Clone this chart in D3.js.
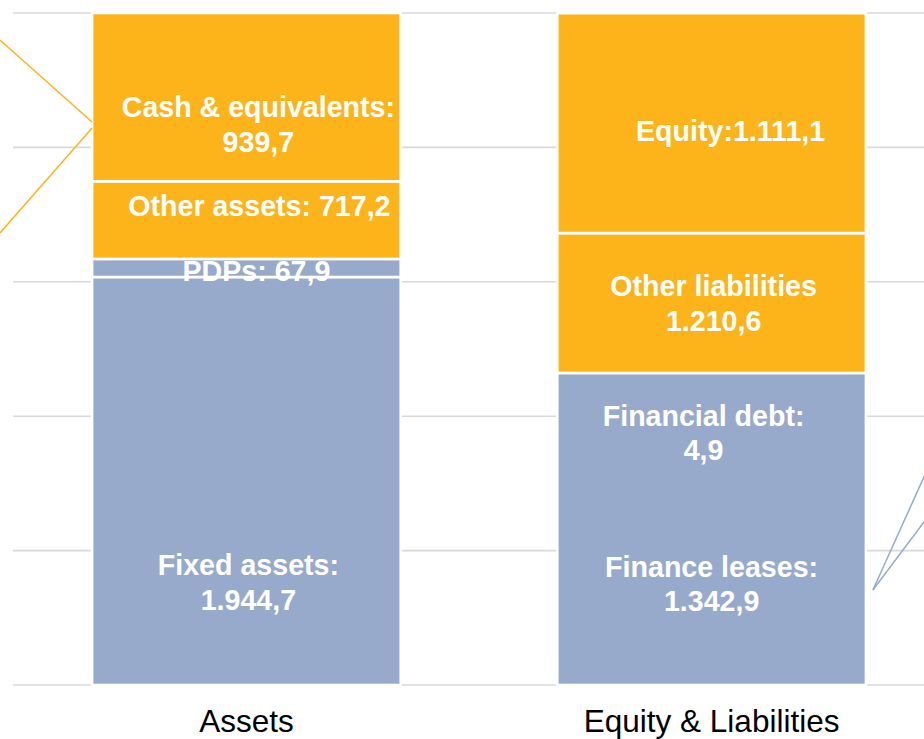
<!DOCTYPE html>
<html>
<head>
<meta charset="utf-8">
<script src="https://cdn.jsdelivr.net/npm/d3@7"></script>
<style>
  html, body { margin: 0; padding: 0; background: #fff; }
  svg { display: block; }
</style>
</head>
<body>
<div id="chart"></div>
<script>
// bar categories
const categories = ["Assets", "Equity & Liabilities"];

// segment heights as drawn (bottom -> top), in the same units as the labels
const assetNames = ["Fixed assets", "PDPs", "Other assets", "Cash & equivalents"];
const assetValues = [2228, 99, 424, 919];
const assetColors = ["blue", "blue", "orange", "orange"];

const liabNames = ["Finance leases / Financial debt", "Other liabilities", "Equity"];
const liabValues = [1704, 764, 1201];
const liabColors = ["blue", "orange", "orange"];

// label texts, one entry per label: [bar, segment index, lines]
const segmentLabels = [
    [0, 0, ["Fixed assets:", "1.944,7"]],
    [0, 1, ["PDPs: 67,9"]],
    [0, 2, ["Other assets: 717,2"]],
    [0, 3, ["Cash & equivalents:", "939,7"]],
    [1, 0, ["Financial debt:", "4,9"]],
    [1, 0, ["Finance leases:", "1.342,9"]],
    [1, 1, ["Other liabilities", "1.210,6"]],
    [1, 2, ["Equity:1.111,1"]]
];

const gridTicks = [0, 734, 1468, 2202, 2936, 3670];

// layout nudges for the hand-placed labels (px from segment centre: dx, first baseline dy)
const labelNudge = [
    [2, 94], [10, 13], [13, -4], [12, 20],
    [-8, -103], [0, 48], [2, -7], [19, 18]
];

const COLORS = { orange: "#FDB41A", blue: "#98AACC" };

const width = 924, height = 739;
const svg = d3.select("#chart").append("svg")
    .attr("width", width)
    .attr("height", height);

const x = d3.scaleBand()
    .domain(categories)
    .range([13, 945])
    .paddingInner(0.3366)
    .paddingOuter(0.17);

const y = d3.scaleLinear().domain([0, 3670]).range([685, 13]);

// gridlines
svg.append("g")
    .selectAll("line")
    .data(gridTicks)
    .join("line")
    .attr("x1", 13)
    .attr("x2", 945)
    .attr("y1", (d) => y(d))
    .attr("y2", (d) => y(d))
    .attr("stroke", "#D9D9D9")
    .attr("stroke-width", 1.6);

// stack segments
const bars = [
    { cat: categories[0], names: assetNames, values: assetValues, colors: assetColors },
    { cat: categories[1], names: liabNames, values: liabValues, colors: liabColors }
];

const segs = [];
bars.forEach((b, bi) => {
    let acc = 0;
    b.values.forEach((v, i) => {
        segs.push({ bar: bi, cat: b.cat, i, name: b.names[i], y0: acc, y1: acc + v, color: COLORS[b.colors[i]] });
        acc += v;
    });
});

svg.append("g")
    .selectAll("rect")
    .data(segs)
    .join("rect")
    .attr("x", (d) => x(d.cat))
    .attr("width", x.bandwidth())
    .attr("y", (d) => y(d.y1))
    .attr("height", (d) => y(d.y0) - y(d.y1))
    .attr("fill", (d) => d.color)
    .attr("stroke", "#fff")
    .attr("stroke-width", 2.6);

// callout lines running off the edges
const leftEdge = x(categories[0]);
const rightEdge = x(categories[1]) + x.bandwidth();
const callouts = [
    { c: COLORS.orange, x1: 0, y1: 40, x2: leftEdge, y2: 122 },
    { c: COLORS.orange, x1: leftEdge, y1: 128, x2: 0, y2: 233 },
    { c: COLORS.blue, x1: rightEdge + 7, y1: 590, x2: width + 20, y2: 590 - 113 * (width + 20 - rightEdge - 7) / 51 },
    { c: COLORS.blue, x1: rightEdge + 7, y1: 590, x2: width + 20, y2: 590 - 68 * (width + 20 - rightEdge - 7) / 51 }
];
svg.append("g")
    .selectAll("line")
    .data(callouts)
    .join("line")
    .attr("x1", (d) => d.x1).attr("y1", (d) => d.y1)
    .attr("x2", (d) => d.x2).attr("y2", (d) => d.y2)
    .attr("stroke", (d) => d.c)
    .attr("stroke-width", 1.5);

// segment labels
const labG = svg.append("g")
    .attr("font-family", "'Liberation Sans', Arial, sans-serif")
    .attr("font-weight", "bold")
    .attr("font-size", 28.6)
    .attr("fill", "#fff")
    .attr("text-anchor", "middle");

segmentLabels.forEach(([bi, si, lines], k) => {
    const seg = segs.find((s) => s.bar === bi && s.i === si);
    const cx = x(seg.cat) + x.bandwidth() / 2 + labelNudge[k][0];
    const cy = (y(seg.y0) + y(seg.y1)) / 2 + labelNudge[k][1];
    const t = labG.append("text").attr("x", cx).attr("y", cy);
    lines.forEach((ln, j) => {
        t.append("tspan").attr("x", cx).attr("dy", j === 0 ? 0 : 34.5).text(ln);
    });
});

// category axis labels
svg.append("g")
    .selectAll("text")
    .data(categories)
    .join("text")
    .attr("x", (d) => x(d) + x.bandwidth() / 2)
    .attr("y", 732)
    .attr("text-anchor", "middle")
    .attr("font-family", "'Liberation Sans', Arial, sans-serif")
    .attr("font-size", 31.5)
    .attr("fill", "#000")
    .text((d) => d);
</script>
</body>
</html>
